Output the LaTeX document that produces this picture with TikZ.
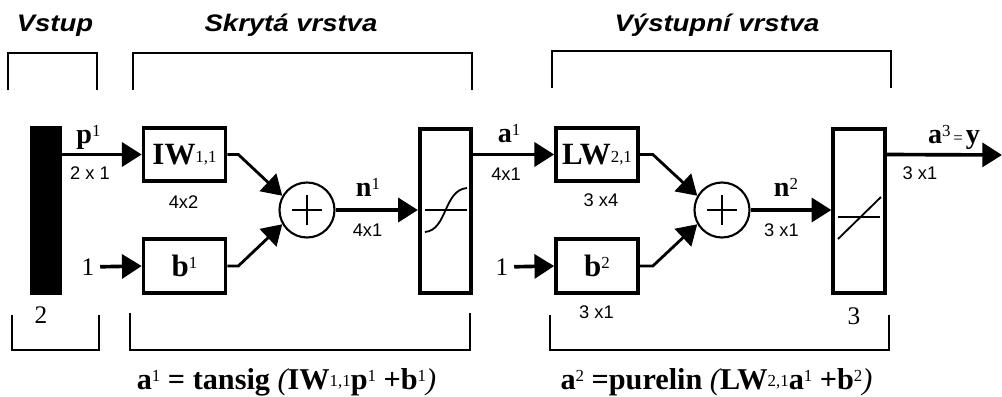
\documentclass[tikz,border=0pt]{standalone}
\usepackage{fontspec}
\setmainfont{Liberation Serif}
\newfontfamily\headfont[FakeStretch=1.15]{Liberation Sans}
\newfontfamily\dimfont{Liberation Sans}
\usetikzlibrary{arrows.meta,positioning,calc}
\newcommand{\upidx}[1]{\raisebox{0.55ex}{\fontsize{12}{12}\selectfont\mdseries #1}}
\newcommand{\lowidx}[1]{\raisebox{0.15ex}{\fontsize{12}{12}\selectfont\mdseries #1}}
\newcommand{\ipar}[1]{{\mdseries\itshape #1}}
\tikzset{
  wbox/.style={draw, line width=2.6pt, minimum width=2.05cm, minimum height=1.335cm,
               inner sep=0pt, font=\fontsize{22}{22}\selectfont\bfseries},
  tfbox/.style={draw, line width=2.6pt, minimum width=1.29cm, minimum height=4.1cm, inner sep=0pt},
  sumnode/.style={draw, circle, line width=1.5pt, minimum size=1.375cm, inner sep=0pt},
  conarr/.style={-{Triangle[length=14pt,width=17pt]}, line width=2.6pt},
  diagarr/.style={-{Triangle[length=14pt,width=17pt]}, line width=2pt},
  brkt/.style={line width=2pt},
  symline/.style={line width=1.3pt},
  dimlbl/.style={font=\dimfont\fontsize{13}{13}\selectfont, inner sep=0pt},
  siglbl/.style={font=\fontsize{20}{20}\selectfont\bfseries, inner sep=0pt},
  eqlbl/.style={font=\fontsize{21.5}{21.5}\selectfont\bfseries, inner sep=0pt, anchor=base},
  numlbl/.style={font=\fontsize{18}{18}\selectfont, inner sep=0pt},
  headlbl/.style={font=\headfont\bfseries\itshape\fontsize{17}{17}\selectfont, anchor=base, inner sep=0pt},
}
\begin{document}
\begin{tikzpicture}[x=0.025cm, y=-0.025cm]
  \useasboundingbox (0,0) rectangle (1002,396);
  % layer titles and brackets
  \node[headlbl] (hin) at (55,31) {Vstup};
  \node[headlbl] (hhid) at (291,31) {Skrytá vrstva};
  \node[headlbl] (hout) at (717,31) {Výstupní vrstva};
  \draw[brkt] (8,90) -- (8,53) -- (97,53) -- (97,90);
  \draw[brkt] (133,90) -- (133,53) -- (472,53) -- (472,90);
  \draw[brkt] (552,88) -- (552,51) -- (891,51) -- (891,88);
  \draw[brkt] (12,315) -- (12,350) -- (99,350) -- (99,315);
  \draw[brkt] (130,313) -- (130,350) -- (470,350) -- (470,313);
  \draw[brkt] (550,315) -- (550,350) -- (889,350) -- (889,315);

  % blocks
  \node[fill, minimum width=0.8cm, minimum height=4.225cm, inner sep=0pt] (bar) at (46,210.5) {};
  \node[wbox] (iw) at (184.5,154.5) {IW\lowidx{1,1}};
  \node[wbox] (b1) at (184.5,266) {b\upidx{1}};
  \node[sumnode] (sum1) at (307,210) {};
  \node[tfbox] (tansig) at (445.5,211) {};
  \node[wbox] (lw) at (597,154.5) {LW\lowidx{2,1}};
  \node[wbox] (b2) at (597,266) {b\upidx{2}};
  \node[sumnode] (sum2) at (722,210) {};
  \node[tfbox] (purelin) at (859,211) {};
  \node[numlbl] (one1) at (88,267) {1};
  \node[numlbl] (one2) at (502,267) {1};
  \coordinate (out) at (1002,155);

  % symbols inside
  \draw[symline] ($(sum1)+(-15,0)$) -- ($(sum1)+(15,0)$) ($(sum1)+(0,-15)$) -- ($(sum1)+(0,15)$);
  \draw[symline] ($(sum2)+(-15,0)$) -- ($(sum2)+(15,0)$) ($(sum2)+(0,-15)$) -- ($(sum2)+(0,15)$);
  \draw[symline] ($(tansig)+(-20.5,-1)$) -- ($(tansig)+(21.5,-1)$);
  \draw[symline] ($(tansig)+(-20.5,21)$) .. controls ($(tansig)+(2,19)$) and ($(tansig)+(-2,-21)$) .. ($(tansig)+(21.5,-23)$);
  \draw[symline] ($(purelin)+(-21,6)$) -- ($(purelin)+(21,6)$);
  \draw[symline] ($(purelin)+(-21,28)$) -- ($(purelin)+(22,-14)$);

  % connectors
  \draw[conarr] (iw.west -| bar.east) -- (iw.west);
  \draw[conarr, shorten <=4pt] (one1) -- (b1.west);
  \draw[diagarr] (iw.east) -- ++(11,0) -- (sum1.150);
  \draw[diagarr] (b1.east) -- ++(11,0) -- (sum1.210);
  \draw[conarr] (sum1.east) -- (sum1.east -| tansig.west);
  \draw[conarr] (tansig.east |- lw.west) -- (lw.west);
  \draw[conarr, shorten <=4pt] (one2) -- (b2.west);
  \draw[diagarr] (lw.east) -- ++(13,0) -- (sum2.150);
  \draw[diagarr] (b2.east) -- ++(13,0) -- (sum2.210);
  \draw[conarr] (sum2.east) -- (sum2.east -| purelin.west);
  \draw[conarr] (purelin.east |- lw.east) -- (out);

  % signal labels and sizes
  \node[siglbl] (p1) at (88.5,137) {p\upidx{1}};
  \node[siglbl] (n1) at (368,187) {n\upidx{1}};
  \node[siglbl] (a1) at (509,134) {a\upidx{1}};
  \node[siglbl] (n2) at (786,187) {n\upidx{2}};
  \node[siglbl] (a3) at (954,137) {a\upidx{3}{\fontsize{12}{12}\selectfont\mdseries\,=\,}y};
  \node[dimlbl] (d21) at (90,173.5) {2 x 1};
  \node[dimlbl] (d42) at (183.5,202) {4x2};
  \node[dimlbl] (d41n) at (367.5,230) {4x1};
  \node[dimlbl] (d41a) at (506,174) {4x1};
  \node[dimlbl] (d34) at (601,200) {3 x4};
  \node[dimlbl] (d31b) at (596.5,312.5) {3 x1};
  \node[dimlbl] (d31n) at (781.5,230) {3 x1};
  \node[dimlbl] (d31o) at (920,173.5) {3 x1};
  \node[numlbl] (cnt2) at (41,315.5) {2};
  \node[numlbl] (cnt3) at (854,316) {3};

  % layer equations
  \node[eqlbl] (eq1) at (286.5,389)
       {a\upidx{1} = tansig \ipar{(}IW\lowidx{1,1}p\upidx{1} +b\upidx{1}\ipar{)}};
  \node[eqlbl] (eq2) at (716.5,389)
       {a\upidx{2} =purelin \ipar{(}LW\lowidx{2,1}a\upidx{1} +b\upidx{2}\ipar{)}};
\end{tikzpicture}
\end{document}
